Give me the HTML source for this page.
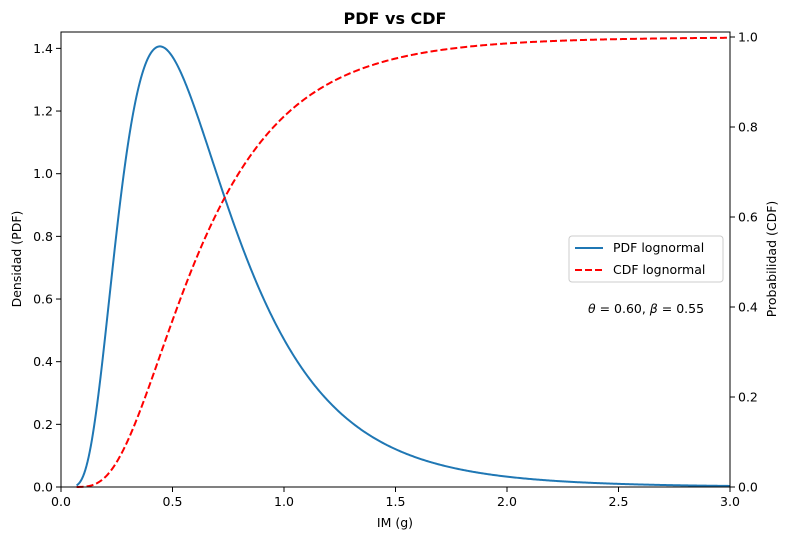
<!DOCTYPE html>
<html><head><meta charset="utf-8"><style>
body{margin:0;background:#fff;}
svg{display:block;font-family:"DejaVu Sans","Liberation Sans",sans-serif;}
</style></head><body>
<svg id="s" width="790" height="540" viewBox="0 0 790 540" xmlns="http://www.w3.org/2000/svg">
<rect width="790" height="540" fill="#fff"/>
<text x="395" y="24" font-size="16" font-weight="bold" text-anchor="middle">PDF vs CDF</text>
<g id="ticks" font-size="12.5" fill="#000"></g>
<path id="pdf" fill="none" stroke="#1f77b4" stroke-width="2"/>
<path id="cdf" fill="none" stroke="#ff0000" stroke-width="2" stroke-dasharray="7,3"/>
<rect x="61" y="32" width="669" height="455" fill="none" stroke="#000" stroke-width="1"/>
<text x="395" y="527" font-size="12.5" text-anchor="middle">IM (g)</text>
<text transform="translate(21,259) rotate(-90)" font-size="12.5" text-anchor="middle">Densidad (PDF)</text>
<text transform="translate(776,259) rotate(-90)" font-size="12.5" text-anchor="middle">Probabilidad (CDF)</text>
<rect x="569" y="236" width="154" height="46" rx="3" fill="#fff" stroke="#ccc"/>
<line x1="575" y1="248" x2="603" y2="248" stroke="#1f77b4" stroke-width="2"/>
<text x="613" y="252" font-size="12.5">PDF lognormal</text>
<line x1="575" y1="270" x2="603" y2="270" stroke="#ff0000" stroke-width="2" stroke-dasharray="7,3"/>
<text x="613" y="274" font-size="12.5">CDF lognormal</text>
<text x="646" y="313" font-size="12.5" text-anchor="middle"><tspan font-style="italic">θ</tspan> = 0.60, <tspan font-style="italic">β</tspan> = 0.55</text>
</svg>
<script>
var X0=61,XS=223,Y0=487,YL=313.3,YR=450,th=0.6,b=0.55;
function erf(x){var s=x<0?-1:1;x=Math.abs(x);var t=1/(1+0.3275911*x);var y=1-(((((1.061405429*t-1.453152027)*t)+1.421413741)*t-0.284496736)*t+0.254829592)*t*Math.exp(-x*x);return s*y;}
var p="",c="";
for(var i=0;i<=600;i++){var x=0.07+(3-0.07)*i/600;var z=Math.log(x/th)/b;
var f=Math.exp(-z*z/2)/(x*b*Math.sqrt(2*Math.PI));var F=0.5*(1+erf(z/Math.SQRT2));
var px=(X0+x*XS).toFixed(2);p+=(i?"L":"M")+px+","+(Y0-f*YL).toFixed(2);c+=(i?"L":"M")+px+","+(Y0-F*YR).toFixed(2);}
document.getElementById("pdf").setAttribute("d",p);document.getElementById("cdf").setAttribute("d",c);
var g=document.getElementById("ticks"),h="";
for(var i=0;i<=6;i++){var x=X0+i*0.5*XS;h+='<line x1="'+x+'" y1="487" x2="'+x+'" y2="492" stroke="#000"/><text x="'+x+'" y="506" text-anchor="middle">'+(i*0.5).toFixed(1)+'</text>';}
for(var i=0;i<=7;i++){var y=Y0-i*0.2*YL;h+='<line x1="56" y1="'+y+'" x2="61" y2="'+y+'" stroke="#000"/><text x="53" y="'+(y+4.5)+'" text-anchor="end">'+(i*0.2).toFixed(1)+'</text>';}
for(var i=0;i<=5;i++){var y=Y0-i*0.2*YR;h+='<line x1="730" y1="'+y+'" x2="735" y2="'+y+'" stroke="#000"/><text x="738" y="'+(y+4.5)+'">'+(i*0.2).toFixed(1)+'</text>';}
g.innerHTML=h;
</script>
</body></html>
